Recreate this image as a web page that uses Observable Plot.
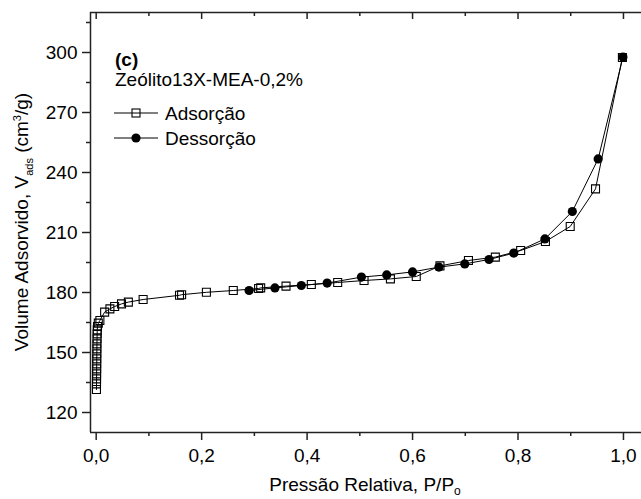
<!DOCTYPE html>
<html><head><meta charset="utf-8">
<script src="https://cdn.jsdelivr.net/npm/d3@7"></script>
<script src="https://cdn.jsdelivr.net/npm/@observablehq/plot@0.6"></script>
<style>
body{margin:0;background:#fff;}
#chart svg{font-family:"Liberation Sans", Arial, sans-serif;}
</style>
</head><body><div id="chart"></div>
<script>
// Adsorção (open squares)
const adsX = [0.0005,0.0006,0.0007,0.0008,0.0009,0.0010,0.0011,0.0012,0.0013,0.0014,0.0016,0.0018,0.0020,0.0025,
  0.004,0.007,0.016,0.026,0.035,0.048,0.061,0.089,0.158,0.162,0.209,0.260,0.308,0.312,0.360,0.408,0.458,0.508,
  0.558,0.607,0.652,0.706,0.757,0.805,0.852,0.899,0.947,0.998];
const adsY = [131.5,134.3,136.8,139.3,141.8,144.3,146.8,149.3,151.8,154.3,156.8,159.3,161.3,163.0,
  164.7,166.0,170.2,171.8,173.0,174.3,175.2,176.5,178.6,178.9,180.1,181.0,182.0,182.3,183.2,184.0,185.0,186.0,
  186.8,188.0,193.3,196.0,197.7,201.0,205.5,213.0,231.8,297.5];
// Dessorção (filled circles)
const desX = [0.999,0.952,0.903,0.851,0.792,0.745,0.699,0.650,0.600,0.551,0.503,0.438,0.389,0.339,0.290];
const desY = [297.7,246.8,220.5,206.8,199.7,196.5,194.3,192.7,190.3,188.8,187.7,184.7,183.5,182.3,181.0];

const seriesNames = ["Adsorção", "Dessorção"];
const panelTag = "(c)";
const sampleName = "Zeólito13X-MEA-0,2%";
const xTitle = "Pressão Relativa, P/P";
const xTitleSub = "o";

const xDomain = [-0.0108, 1.0342];
const yDomain = [110, 320];
const xMajor = [0, 0.2, 0.4, 0.6, 0.8, 1.0];
const xMinor = [0.1, 0.3, 0.5, 0.7, 0.9];
const yMajor = [120, 150, 180, 210, 240, 270, 300];
const yMinor = [135, 165, 195, 225, 255, 285, 315];

const ads = adsX.map((x, i) => ({x, y: adsY[i]}));
const des = desX.map((x, i) => ({x, y: desY[i]}));

const fmt = d => d.toFixed(1).replace(".", ",");
const axisColor = "#222";

const plot = Plot.plot({
  width: 641, height: 499,
  marginLeft: 90, marginRight: 0, marginTop: 12, marginBottom: 67,
  style: {fontFamily: "Liberation Sans, Arial, sans-serif", fontSize: "19px", color: "#000", background: "#fff"},
  x: {domain: xDomain, label: null},
  y: {domain: yDomain, label: null},
  marks: [
    Plot.axisX({anchor: "bottom", ticks: xMajor, tickSize: 8, tickPadding: 8, tickFormat: fmt, label: null, strokeWidth: 1.5, stroke: axisColor}),
    Plot.axisX({anchor: "bottom", ticks: xMinor, tickSize: 4, tickFormat: () => "", label: null, strokeWidth: 1.5, stroke: axisColor}),
    Plot.axisY({anchor: "left", ticks: yMajor, tickSize: 8, tickPadding: 5, tickFormat: d => String(d), label: null, strokeWidth: 1.5, stroke: axisColor}),
    Plot.axisY({anchor: "left", ticks: yMinor, tickSize: 4, tickFormat: () => "", label: null, strokeWidth: 1.5, stroke: axisColor}),
    Plot.tickX(xMajor, {x: d => d, insetBottom: 413, stroke: axisColor, strokeWidth: 1.5}),
    Plot.tickX(xMinor, {x: d => d, insetBottom: 416, stroke: axisColor, strokeWidth: 1.5}),
    Plot.ruleX([xDomain[0]], {stroke: axisColor, strokeWidth: 1.5}),
    Plot.ruleY([yDomain[0], yDomain[1]], {stroke: axisColor, strokeWidth: 1.5}),
    Plot.line(ads, {x: "x", y: "y", stroke: "#000", strokeWidth: 1}),
    Plot.dot(ads, {x: "x", y: "y", symbol: "square", r: 4.5, stroke: "#000", strokeWidth: 1.1, fill: "none"}),
    Plot.line(des, {x: "x", y: "y", stroke: "#000", strokeWidth: 1}),
    Plot.dot(des, {x: "x", y: "y", symbol: "circle", r: 4.6, fill: "#000", stroke: "none"})
  ]
});

document.getElementById("chart").appendChild(plot);

const svg = d3.select(plot);
const font = "Liberation Sans, Arial, sans-serif";

// Legend block
const lg = svg.append("g").attr("font-family", font).attr("font-size", 19).attr("fill", "#000").attr("text-anchor", "start");
lg.append("text").attr("x", 115).attr("y", 66).attr("font-weight", "bold").text(panelTag);
lg.append("text").attr("x", 115).attr("y", 86).text(sampleName);
const legendRows = [
  {name: seriesNames[0], y: 113, sym: "square"},
  {name: seriesNames[1], y: 138, sym: "circle"}
];
for (const r of legendRows) {
  lg.append("line").attr("x1", 114).attr("x2", 158).attr("y1", r.y).attr("y2", r.y).attr("stroke", "#000").attr("stroke-width", 1);
  if (r.sym === "square") {
    lg.append("rect").attr("x", 132).attr("y", r.y - 4).attr("width", 8).attr("height", 8).attr("fill", "none").attr("stroke", "#000").attr("stroke-width", 1.1);
  } else {
    lg.append("circle").attr("cx", 136).attr("cy", r.y).attr("r", 4.6).attr("fill", "#000");
  }
  lg.append("text").attr("x", 165).attr("y", r.y + 6.5).text(r.name);
}

// X axis title
const xt = svg.append("text").attr("font-family", font).attr("font-size", 19).attr("fill", "#000")
  .attr("x", 365).attr("y", 491).attr("text-anchor", "middle");
xt.append("tspan").text(xTitle);
xt.append("tspan").attr("font-size", 12).attr("dy", 4).text(xTitleSub);

// Y axis title
const yt = svg.append("text").attr("font-family", font).attr("font-size", 19).attr("fill", "#000")
  .attr("text-anchor", "middle").attr("transform", "translate(28,222) rotate(-90)");
yt.append("tspan").text("Volume Adsorvido, V");
yt.append("tspan").attr("font-size", 11).attr("dy", 5).text("ads");
yt.append("tspan").attr("dy", -5).text(" (cm");
yt.append("tspan").attr("font-size", 11).attr("dy", -7).text("3");
yt.append("tspan").attr("dy", 7).text("/g)");
</script>
</body></html>
